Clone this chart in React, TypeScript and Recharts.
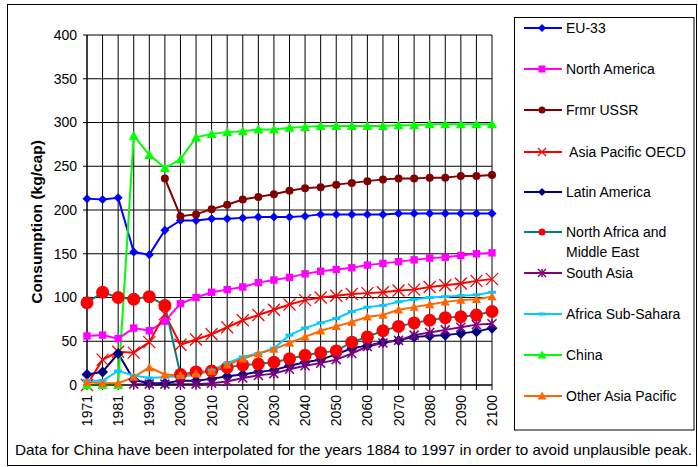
import React from "react";
import { CartesianGrid, Line, LineChart, XAxis, YAxis } from "recharts";

const years = [
  "1971", "1976", "1981", "1985", "1990", "1995", "2000", "2005", "2010",
  "2015", "2020", "2025", "2030", "2035", "2040", "2045", "2050", "2055",
  "2060", "2065", "2070", "2075", "2080", "2085", "2090", "2095", "2100",
];

const eu33 = [213, 212, 214, 152, 149, 177, 188, 188, 190, 190, 191, 192, 192, 192, 193, 195, 195, 195, 195, 195, 196, 196, 196, 196, 196, 196, 196];
const northAmerica = [56, 57, 53, 65, 62, 73, 93, 100, 106, 109, 112, 117, 120, 123, 127, 130, 132, 134, 137, 139, 141, 143, 145, 146, 148, 150, 151];
const frmrUssr = [null, null, null, null, null, 236, 193, 195, 201, 206, 212, 215, 218, 222, 225, 226, 229, 231, 233, 235, 236, 236, 237, 237, 239, 239, 240];
const asiaPacificOecd = [0, 29, 38, 37, 49, 81, 46, 52, 58, 66, 74, 80, 86, 92, 97, 100, 102, 104, 105, 106, 108, 109, 112, 114, 116, 119, 121];
const latinAmerica = [12, 15, 36, 6, 2, 2, 5, 5, 7, 10, 12, 15, 17, 22, 26, 29, 35, 42, 45, 49, 51, 55, 56, 57, 59, 61, 65];
const northAfricaMiddleEast = [94, 106, 100, 98, 101, 91, 12, 15, 16, 20, 23, 24, 26, 30, 34, 37, 39, 49, 55, 62, 67, 71, 74, 77, 78, 80, 84];
const southAsia = [null, null, null, 1, 1, 1, 1, 1, 2, 4, 8, 11, 13, 18, 22, 25, 29, 36, 44, 48, 51, 57, 60, 63, 66, 69, 70];
const africaSubSahara = [5, 5, 16, 11, 8, 9, 10, 11, 17, 25, 32, 36, 42, 57, 65, 71, 76, 84, 89, 91, 95, 98, 100, 101, 102, 103, 106];
const china = [0, 0, 0, 285, 263, 248, 258, 283, 287, 289, 290, 292, 292, 294, 295, 296, 296, 296, 296, 296, 297, 297, 298, 298, 298, 298, 298];
const otherAsiaPacific = [3, 2, 2, 9, 20, 12, 11, 13, 16, 23, 30, 36, 41, 48, 55, 62, 67, 72, 78, 80, 86, 89, 92, 95, 97, 98, 101];

const yTicks = [0, 50, 100, 150, 200, 250, 300, 350, 400];

type Shape = "diamond" | "square" | "circle" | "x" | "star" | "dash" | "triangle";

type Series = {
  key: string;
  name: string[];
  values: (number | null)[];
  line: string;
  marker: string;
  shape: Shape;
  size: number;
  legendSize: number;
  legendY: number;
};

const series: Series[] = [
  { key: "eu33", name: ["EU-33"], values: eu33, line: "#0000ff", marker: "#0000ff", shape: "diamond", size: 4.5, legendSize: 4, legendY: 28 },
  { key: "northAmerica", name: ["North America"], values: northAmerica, line: "#ff00ff", marker: "#ff00ff", shape: "square", size: 3.7, legendSize: 3.5, legendY: 69 },
  { key: "frmrUssr", name: ["Frmr USSR"], values: frmrUssr, line: "#800000", marker: "#800000", shape: "circle", size: 4, legendSize: 3.5, legendY: 110 },
  { key: "asiaPacificOecd", name: [" Asia Pacific OECD"], values: asiaPacificOecd, line: "#ff0000", marker: "#ff0000", shape: "x", size: 6, legendSize: 4, legendY: 152 },
  { key: "latinAmerica", name: ["Latin America"], values: latinAmerica, line: "#000080", marker: "#000080", shape: "diamond", size: 5.5, legendSize: 4, legendY: 192 },
  { key: "northAfricaMiddleEast", name: ["North Africa and", "Middle East"], values: northAfricaMiddleEast, line: "#008080", marker: "#ff0000", shape: "circle", size: 6.5, legendSize: 3.5, legendY: 232 },
  { key: "southAsia", name: ["South Asia"], values: southAsia, line: "#800080", marker: "#800080", shape: "star", size: 4.5, legendSize: 4, legendY: 273 },
  { key: "africaSubSahara", name: ["Africa Sub-Sahara"], values: africaSubSahara, line: "#00ccff", marker: "#00ccff", shape: "dash", size: 4, legendSize: 3.5, legendY: 314 },
  { key: "china", name: ["China"], values: china, line: "#00ff00", marker: "#00ff00", shape: "triangle", size: 5, legendSize: 4.5, legendY: 355 },
  { key: "otherAsiaPacific", name: ["Other Asia Pacific"], values: otherAsiaPacific, line: "#ff6600", marker: "#ff6600", shape: "triangle", size: 4.6, legendSize: 4.5, legendY: 396 },
];

const rows = years.map((year, i) => {
  const row: Record<string, string | number | null> = { year };
  series.forEach((s) => {
    row[s.key] = s.values[i];
  });
  return row;
});

const font = '"Liberation Sans", Arial, sans-serif';

function Marker({ shape, x, y, s, color }: { shape: Shape; x: number; y: number; s: number; color: string }) {
  switch (shape) {
    case "diamond":
      return <polygon points={`${x},${y - s} ${x + s},${y} ${x},${y + s} ${x - s},${y}`} fill={color} />;
    case "square":
      return <rect x={x - s} y={y - s} width={2 * s} height={2 * s} fill={color} />;
    case "circle":
      return <circle cx={x} cy={y} r={s} fill={color} />;
    case "x":
      return (
        <g stroke={color} strokeWidth={1.3}>
          <line x1={x - s} y1={y - s} x2={x + s} y2={y + s} />
          <line x1={x - s} y1={y + s} x2={x + s} y2={y - s} />
        </g>
      );
    case "star":
      return (
        <g stroke={color} strokeWidth={1.5}>
          <line x1={x - s} y1={y - s} x2={x + s} y2={y + s} />
          <line x1={x - s} y1={y + s} x2={x + s} y2={y - s} />
          <line x1={x} y1={y - s} x2={x} y2={y + s} />
        </g>
      );
    case "dash":
      return <rect x={x - s} y={y - 1.5} width={2 * s} height={3} fill={color} />;
    case "triangle":
      return <polygon points={`${x},${y - s} ${x + s},${y + s * 0.8} ${x - s},${y + s * 0.8}`} fill={color} />;
  }
  return null;
}

function makeDot(s: Series) {
  return (props: any) => {
    const { cx, cy, index, payload } = props;
    const k = `${s.key}-${index}`;
    if (cx == null || cy == null || payload == null || payload[s.key] == null) {
      return <g key={k} />;
    }
    return (
      <g key={k}>
        <Marker shape={s.shape} x={cx} y={cy} s={s.size} color={s.marker} />
      </g>
    );
  };
}

function YearTick(props: any) {
  const { x, y, payload, index } = props;
  if (index % 2 !== 0) return <g />;
  return (
    <text
      x={x}
      y={y}
      transform={`rotate(-90 ${x} ${y})`}
      textAnchor="end"
      dy="0.36em"
      fontSize={14}
      fontFamily={font}
      fill="#000"
    >
      {payload.value}
    </text>
  );
}

export default function App() {
  return (
    <div style={{ position: "absolute", left: 0, top: 0, width: 698, height: 467, background: "#fff" }}>
      <LineChart
        width={698}
        height={467}
        data={rows}
        margin={{ top: 35, right: 206, bottom: 32, left: 0 }}
      >
        <CartesianGrid stroke="#000" strokeWidth={1} />
        <XAxis
          dataKey="year"
          interval={0}
          height={50}
          tick={<YearTick />}
          tickSize={5}
          tickMargin={5}
          tickLine={{ stroke: "#000" }}
          axisLine={{ stroke: "#000" }}
        />
        <YAxis
          width={87}
          domain={[0, 400]}
          ticks={yTicks}
          interval={0}
          tickSize={4}
          tickMargin={6}
          tick={{ fill: "#000", fontSize: 14, fontFamily: font }}
          tickLine={{ stroke: "#000" }}
          axisLine={{ stroke: "#000" }}
        />
        {series.map((s) => (
          <Line
            key={s.key}
            dataKey={s.key}
            name={s.name.join(" ")}
            stroke={s.line}
            strokeWidth={2}
            dot={makeDot(s)}
            activeDot={false}
            isAnimationActive={false}
          />
        ))}
      </LineChart>
      <svg
        width={698}
        height={467}
        style={{ position: "absolute", left: 0, top: 0, pointerEvents: "none" }}
        fontFamily={font}
      >
        <rect x={7.5} y={4.5} width={689} height={461} fill="none" stroke="#000" />
        <text
          transform="translate(36 222) rotate(-90)"
          textAnchor="middle"
          dominantBaseline="central"
          fontSize={15.5}
          fontWeight="bold"
          fill="#000"
        >
          Consumption (kg/cap)
        </text>
        <rect x={514.5} y={17.5} width={179.5} height={412.5} fill="#fff" stroke="#000" />
        {series.map((s) => (
          <g key={s.key}>
            <line x1={524} x2={562} y1={s.legendY} y2={s.legendY} stroke={s.line} strokeWidth={2} />
            <Marker shape={s.shape} x={542} y={s.legendY} s={s.legendSize} color={s.marker} />
            {s.name.map((t, i) => (
              <text
                key={t}
                x={566}
                y={s.legendY + i * 19.5}
                dominantBaseline="central"
                fontSize={14}
                fill="#000"
                style={{ whiteSpace: "pre" }}
              >
                {t}
              </text>
            ))}
          </g>
        ))}
        <text x={15} y={455} fontSize={14.5} fill="#000" textLength={677} lengthAdjust="spacingAndGlyphs">
          Data for China have been interpolated for the years 1884 to 1997 in order to avoid unplausible peak.
        </text>
      </svg>
    </div>
  );
}
